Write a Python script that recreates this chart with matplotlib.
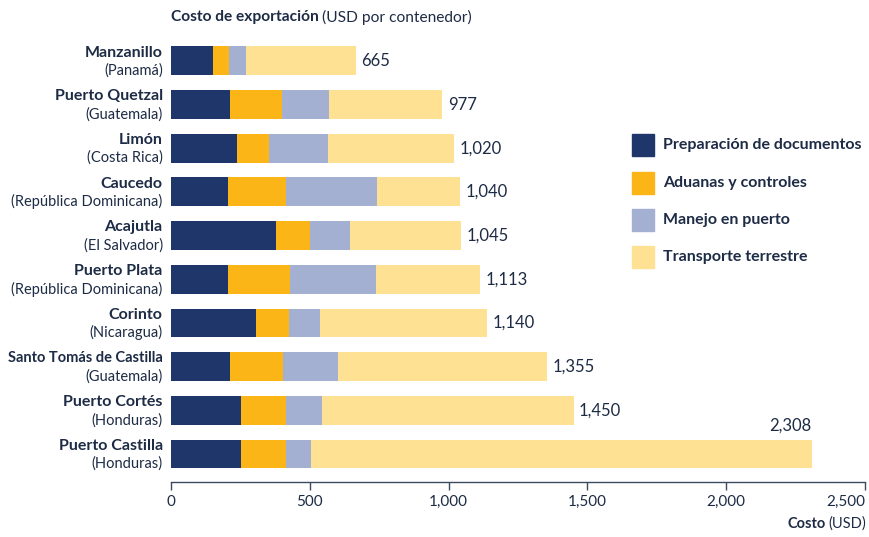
import matplotlib
matplotlib.use("Agg")
import matplotlib.pyplot as plt
import numpy as np

# ---- data (USD por contenedor) ----
ports = ["Manzanillo", "Puerto Quetzal", "Limón", "Caucedo", "Acajutla",
         "Puerto Plata", "Corinto", "Santo Tomás de Castilla",
         "Puerto Cortés", "Puerto Castilla"]
countries = ["(Panamá)", "(Guatemala)", "(Costa Rica)", "(República Dominicana)",
             "(El Salvador)", "(República Dominicana)", "(Nicaragua)",
             "(Guatemala)", "(Honduras)", "(Honduras)"]
totals = [665, 977, 1020, 1040, 1045, 1113, 1140, 1355, 1450, 2308]
documentos = [153, 214, 239, 207, 377, 207, 306, 214, 253, 253]
aduanas = [56, 185, 113, 209, 124, 222, 118, 188, 163, 160]
puerto = [62, 171, 215, 325, 144, 309, 114, 200, 129, 93]
# transporte terrestre = resto del total
transporte = [t - d - a - p for t, d, a, p in zip(totals, documentos, aduanas, puerto)]

series = ["Preparación de documentos", "Aduanas y controles",
          "Manejo en puerto", "Transporte terrestre"]
colors = ["#1f366b", "#fbb516", "#a3b0d2", "#fee192"]
ticks = [0, 500, 1000, 1500, 2000, 2500]

TXT = "#1d2b45"
plt.rcParams["font.family"] = ["Lato", "DejaVu Sans"]

fig = plt.figure(figsize=(8.7, 5.37), dpi=100)
ax = fig.add_axes([171 / 870, 55 / 537, 694 / 870, 443 / 537])

y = np.arange(len(ports))
left = np.zeros(len(ports))
for vals, col, name in zip([documentos, aduanas, puerto, transporte], colors, series):
    ax.barh(y, vals, left=left, height=0.66, color=col, label=name)
    left += np.array(vals)

ax.set_ylim(9.64, -0.5)
ax.set_xlim(0, 2500)

for s in ["top", "right", "left"]:
    ax.spines[s].set_visible(False)
ax.spines["bottom"].set_color("#3b4a60")
ax.spines["bottom"].set_linewidth(1.0)
ax.set_yticks([])
ax.set_xticks(ticks)
ax.set_xticklabels([f"{t:,}" for t in ticks], fontsize=11, color=TXT)
ax.get_xticklabels()[-1].set_ha("right")
ax.tick_params(axis="x", length=6, width=1.0, color="#3b4a60", pad=3)

# total labels
for i, t in enumerate(totals):
    if i == len(totals) - 1:
        ax.annotate(f"{t:,}", (t, i - 0.33), xytext=(0, 4), textcoords="offset points",
                    ha="right", va="bottom", fontsize=12, color=TXT)
    else:
        ax.annotate(f"{t:,}", (t, i), xytext=(4, 0), textcoords="offset points",
                    ha="left", va="center", fontsize=12, color=TXT)

# port names (bold) and country (regular)
for i, (p, c) in enumerate(zip(ports, countries)):
    fs = 10.5 if len(p) > 16 else 11.5
    ax.annotate(p, (0, i), xytext=(-6, 6), textcoords="offset points",
                ha="right", va="center", fontsize=fs, fontweight="bold", color=TXT,
                annotation_clip=False)
    ax.annotate(c, (0, i), xytext=(-6, -7), textcoords="offset points",
                ha="right", va="center", fontsize=10.5, color=TXT,
                annotation_clip=False)

# legend built by hand
leg_y = [145, 183, 220, 257]
for (name, col), ly in zip(zip(series, colors), leg_y):
    fig.patches.append(plt.Rectangle((632 / 870, 1 - (ly + 11) / 537), 22 / 870, 22 / 537,
                                     transform=fig.transFigure, color=col))
    fig.text(663 / 870, 1 - ly / 537, name, ha="left", va="center",
             fontsize=11.5, fontweight="bold", color=TXT)

# titles with mixed weights
fig.canvas.draw()
r = fig.canvas.get_renderer()
t1 = fig.text(171 / 870, 1 - 17 / 537, "Costo de exportación", ha="left", va="center",
              fontsize=11.2, fontweight="bold", color=TXT)
bb = t1.get_window_extent(r)
fig.text((bb.x1 + 3) / 870, 1 - 17 / 537, "(USD por contenedor)", ha="left", va="center",
         fontsize=11.2, color=TXT)

t2 = fig.text(866 / 870, 1 - 524 / 537, "(USD)", ha="right", va="center",
              fontsize=10.5, color=TXT)
bb = t2.get_window_extent(r)
fig.text((bb.x0 - 2) / 870, 1 - 524 / 537, "Costo", ha="right", va="center",
         fontsize=10.5, fontweight="bold", color=TXT)

fig.savefig("out.png", dpi=100, facecolor="white")
